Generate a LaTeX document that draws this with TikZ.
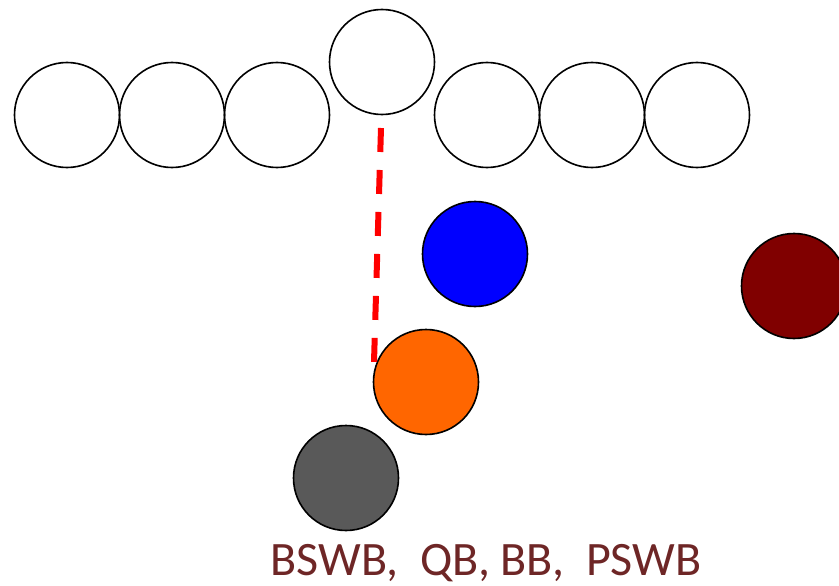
\documentclass[tikz,border=0pt]{standalone}
\usepackage{fontspec}
\setmainfont{Carlito}
\definecolor{txtred}{RGB}{110,38,38}
\definecolor{dkred}{RGB}{128,0,0}
\definecolor{orng}{RGB}{255,102,0}
\definecolor{gry}{RGB}{89,89,89}
\begin{document}
\begin{tikzpicture}[x=1pt,y=-1pt,
  player/.style={circle,draw=black,line width=1.6pt,minimum size=105pt,inner sep=0pt},
  lbl/.style={text=txtred,font=\fontsize{48}{50}\selectfont,inner sep=0pt}]
\useasboundingbox (0,0) rectangle (839,586);
\node[player] (l1) at (67,115) {};
\node[player] (l2) at (172,115) {};
\node[player] (l3) at (277,115) {};
\node[player] (c) at (382,62) {};
\node[player] (r1) at (487,115) {};
\node[player] (r2) at (592,115) {};
\node[player] (r3) at (697,115) {};
\node[player,fill=blue] (bl) at (475,254) {};
\node[player,fill=dkred] (dr) at (794,286) {};
\node[player,fill=orng] (or) at (426,382) {};
\node[player,fill=gry] (gr) at (346,478) {};
\coordinate (d1) at (381,128);
\coordinate (d2) at (374,362);
\draw[red,line width=6pt,dash pattern=on 24pt off 18pt] (d1) -- (d2);
\node[lbl,anchor=base] (t) at (486,575) {BSWB,\ \ QB, BB,\ \ PSWB};
\end{tikzpicture}
\end{document}
